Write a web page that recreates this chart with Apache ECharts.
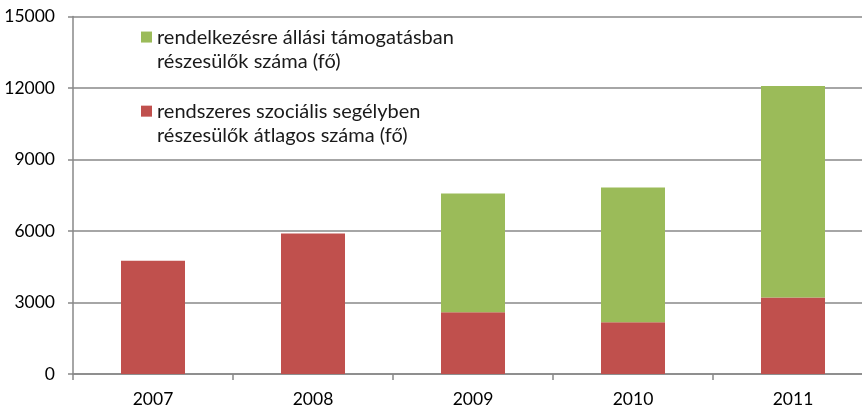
<!DOCTYPE html>
<html>
<head>
<meta charset="utf-8">
<script src="https://cdn.jsdelivr.net/npm/echarts@6/dist/echarts.min.js"></script>
<style>
  html, body { margin: 0; padding: 0; background: #fff; }
  #chart { width: 862px; height: 412px; }
</style>
</head>
<body>
<div id="chart"></div>
<script>
// Years on the category axis
const years = ['2007', '2008', '2009', '2010', '2011'];
// Regular social assistance recipients (average headcount)
const socialAid = [4750, 5900, 2590, 2170, 3210];
// Availability support recipients (headcount)
const availabilitySupport = [null, null, 4980, 5660, 8870];
// Value axis ticks
const yTicks = [0, 3000, 6000, 9000, 12000, 15000];

const nameSupport = 'rendelkezésre állási támogatásban\nrészesülők száma (fő)';
const nameAid = 'rendszeres szociális segélyben\nrészesülők átlagos száma (fő)';

const axisGray = '#888888';
const font = 'Lato, "Noto Sans", sans-serif';

const chart = echarts.init(document.getElementById('chart'));
chart.setOption({
  animation: false,
  backgroundColor: '#ffffff',
  // the plot runs slightly past the right edge of the canvas
  grid: {
    left: 73, width: 800, top: 16.5, height: 357.5,
    containLabel: false, outerBoundsMode: 'none'
  },
  legend: {
    data: [nameSupport, nameAid],
    orient: 'vertical',
    left: 141,
    top: 0,
    padding: 0,
    itemWidth: 11,
    itemHeight: 11,
    itemGap: 0,
    icon: 'rect',
    selectedMode: false,
    // a blank first line keeps the square level with the first text line
    formatter: name => ' \n' + name,
    textStyle: {
      fontFamily: font,
      fontSize: 20,
      color: '#1a1a1a',
      lineHeight: 24.7
    }
  },
  xAxis: {
    type: 'category',
    data: years,
    axisLine: { lineStyle: { color: axisGray, width: 1.5 } },
    axisTick: { show: true, alignWithLabel: false, length: 6, lineStyle: { color: axisGray, width: 1.5 } },
    axisLabel: { fontFamily: font, fontSize: 17.5, color: '#000', margin: 16 }
  },
  yAxis: {
    type: 'value',
    min: yTicks[0],
    max: yTicks[yTicks.length - 1],
    interval: yTicks[1] - yTicks[0],
    axisLine: { show: true, lineStyle: { color: axisGray, width: 1.5 } },
    axisTick: { show: true, length: 5, lineStyle: { color: axisGray, width: 1.5 } },
    splitLine: { lineStyle: { color: axisGray, width: 1.5 } },
    axisLabel: {
      fontFamily: font, fontSize: 17.5, color: '#000', margin: 18,
      formatter: v => String(v)
    }
  },
  series: [
    {
      name: nameAid,
      type: 'bar',
      stack: 'total',
      data: socialAid,
      barWidth: '40%',
      itemStyle: { color: '#C0504D' }
    },
    {
      name: nameSupport,
      type: 'bar',
      stack: 'total',
      data: availabilitySupport,
      barWidth: '40%',
      itemStyle: { color: '#9BBB59' }
    }
  ]
});
</script>
</body>
</html>
